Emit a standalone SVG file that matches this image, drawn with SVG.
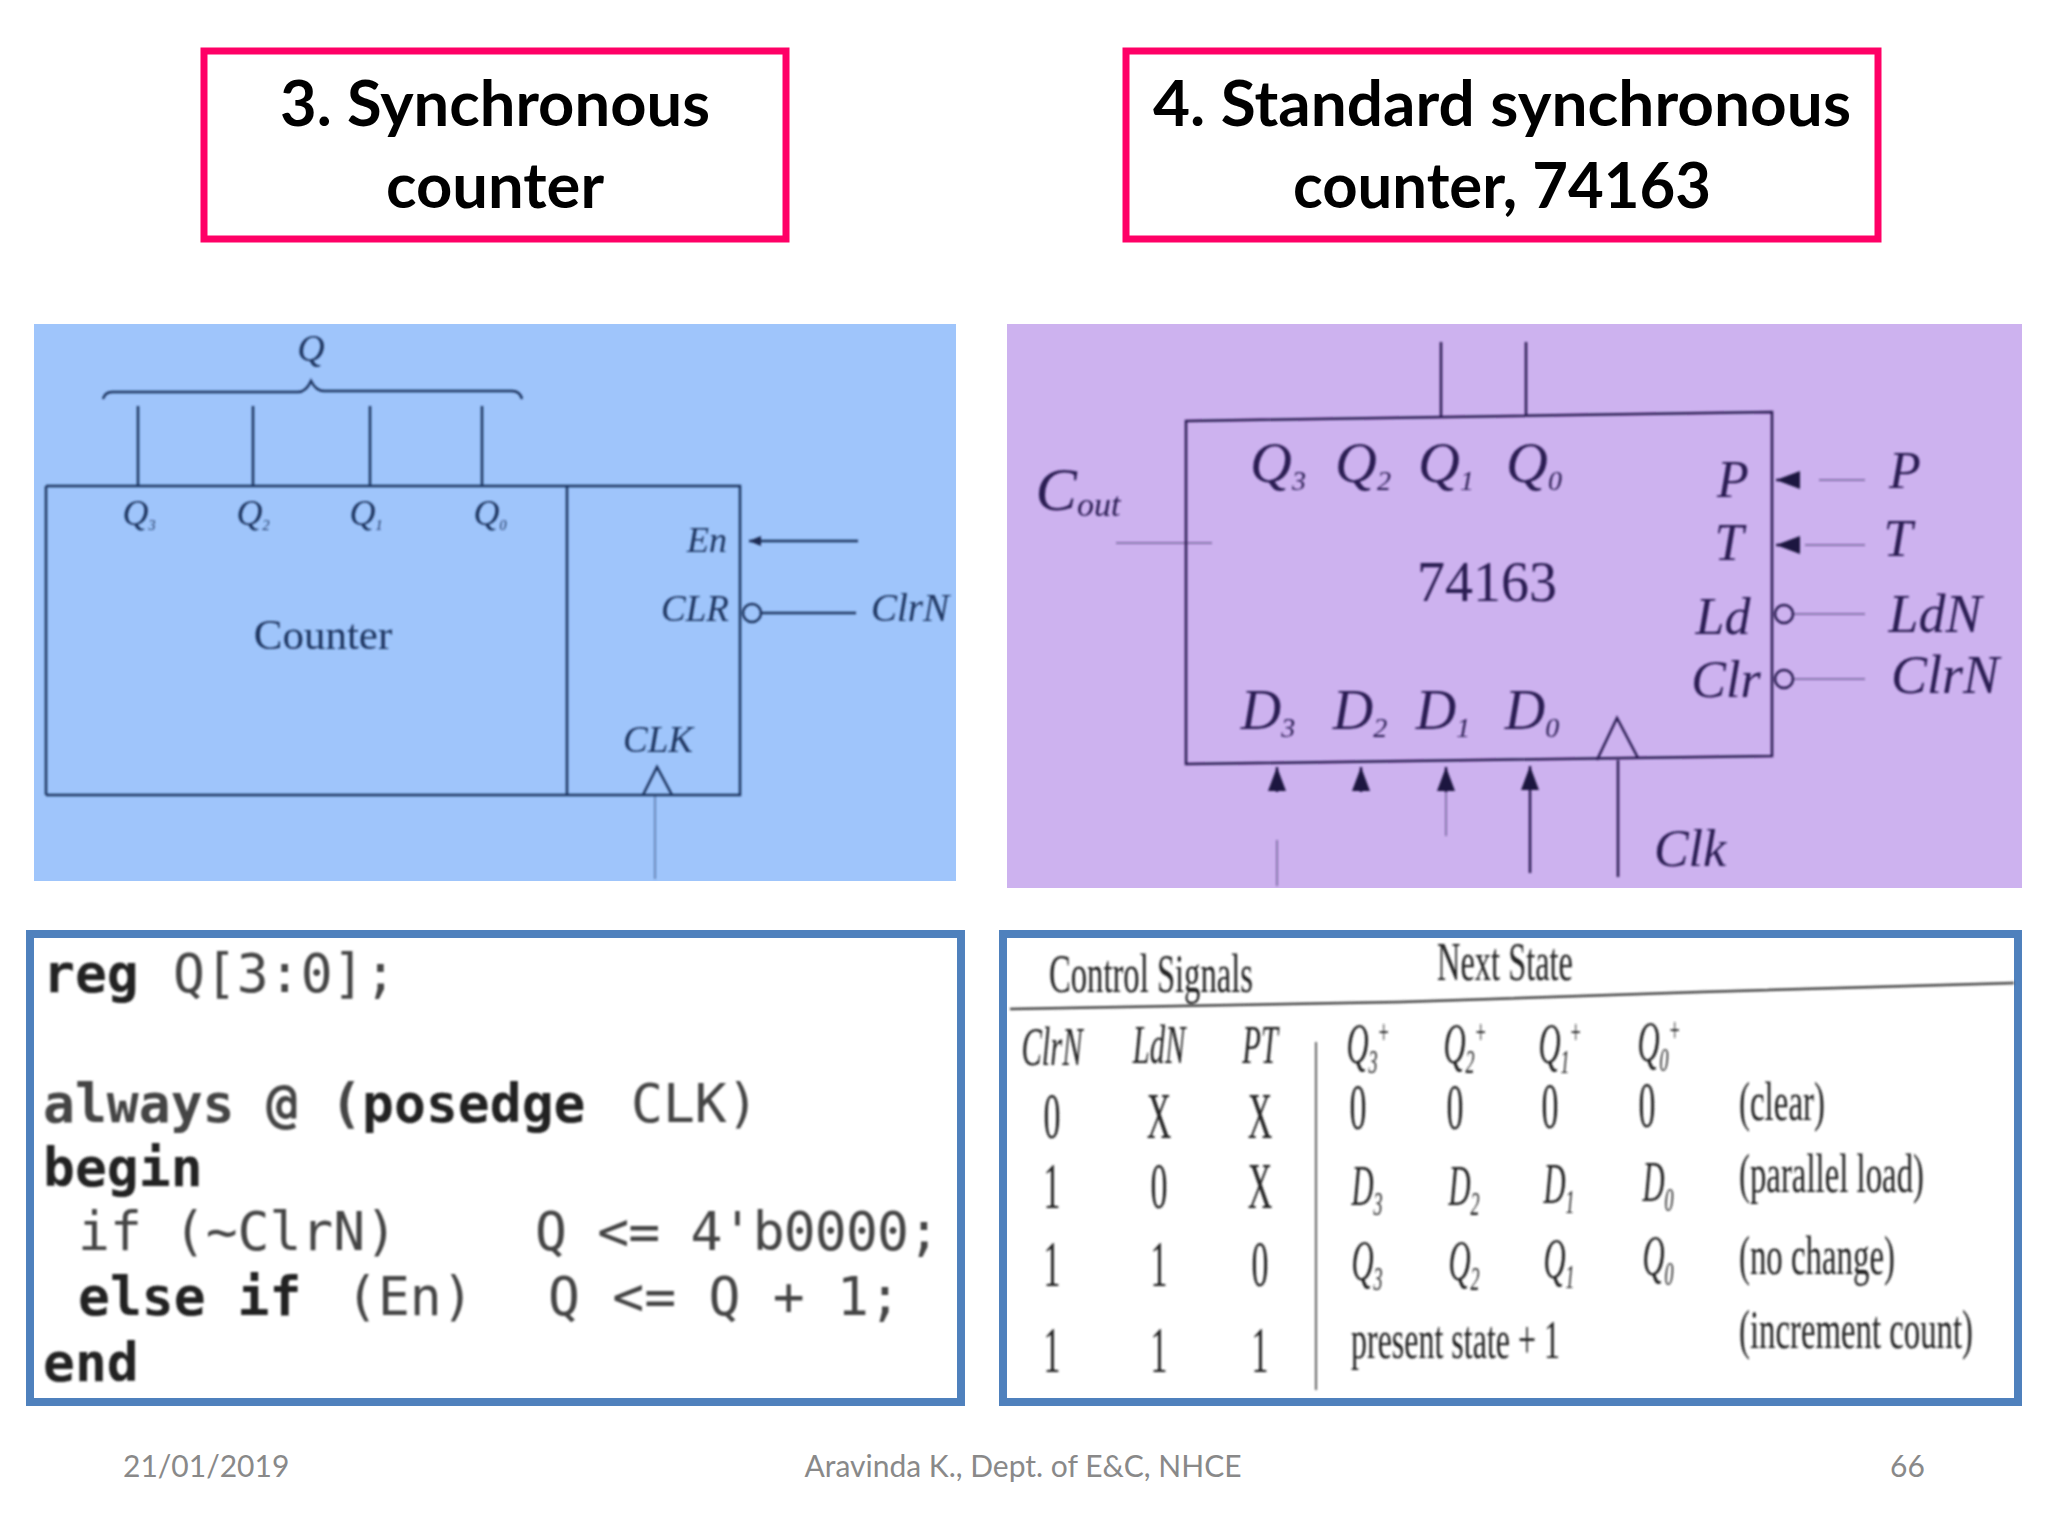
<svg xmlns="http://www.w3.org/2000/svg" width="2048" height="1536" viewBox="0 0 2048 1536">
<defs>
<filter id="soft" x="-5%" y="-5%" width="110%" height="110%"><feGaussianBlur stdDeviation="1.2"/></filter>
<marker id="ah" viewBox="0 0 12 10" refX="12" refY="5" markerWidth="12" markerHeight="10" markerUnits="userSpaceOnUse" orient="auto"><path d="M0 0L12 5L0 10Z" fill="#1c2a52"/></marker>
<marker id="ah2" viewBox="0 0 24 18" refX="24" refY="9" markerWidth="24" markerHeight="18" markerUnits="userSpaceOnUse" orient="auto"><path d="M0 0L24 9L0 18Z" fill="#1f1640"/></marker>
</defs>
<style>
.head{font-family:Lato,"Open Sans",sans-serif;font-weight:700;font-size:63px;fill:#000;text-anchor:middle}
.hbox{fill:#fff;stroke:#ff0066;stroke-width:7}
.bbox{fill:#fff;stroke:#4f81bd;stroke-width:8}
.foot{font-family:Lato,"Open Sans",sans-serif;font-size:30px;fill:#898989}
.l1{stroke:#1f3560;stroke-width:2.5;fill:none}
.l2{stroke:#2a1d52;stroke-width:2.5;fill:none}
.faint{stroke-opacity:.55;stroke-width:1.5}
.ti{font-family:"Liberation Serif",serif;font-style:italic;fill:#1f3560;text-anchor:middle}
.tp{font-family:"Liberation Serif",serif;font-style:italic;fill:#2a1d52;text-anchor:middle}
.code{font-family:"DejaVu Sans Mono","Liberation Mono",monospace;font-size:53px;fill:#444}
.cb{font-weight:700;fill:#222}
.tt{font-family:"Liberation Serif",serif;fill:#222;text-anchor:middle}
.ts{font-size:34px}
.tl{text-anchor:start}
.tv{font-style:italic}
</style>
<rect width="2048" height="1536" fill="#fff"/>

<g id="title-3">
<rect class="hbox" x="204" y="51" width="582" height="188"/>
<text class="head" x="495" y="126" textLength="430" lengthAdjust="spacingAndGlyphs">3. Synchronous</text>
<text class="head" x="495" y="208" textLength="218" lengthAdjust="spacingAndGlyphs">counter</text>
</g>
<g id="title-4">
<rect class="hbox" x="1126" y="51" width="752" height="188"/>
<text class="head" x="1502" y="126" textLength="698" lengthAdjust="spacingAndGlyphs">4. Standard synchronous</text>
<text class="head" x="1502" y="208" textLength="418" lengthAdjust="spacingAndGlyphs">counter, 74163</text>
</g>

<g id="panel-counter">
<rect x="34" y="324" width="922" height="557" fill="#9fc5fb"/>
<g filter="url(#soft)">
<g id="counter-body">
<path class="l1" d="M46 486H740V795H46M46 486V795M567 486V795"/>
<path class="l1" d="M643 795L657 767L672 795"/>
</g>
<g id="counter-labels">
<text class="ti" x="311" y="361" font-size="38">Q</text>
<text class="ti" x="139" y="525" font-size="36">Q<tspan font-size="14" dy="5">3</tspan></text>
<text class="ti" x="253" y="525" font-size="36">Q<tspan font-size="14" dy="5">2</tspan></text>
<text class="ti" x="366" y="525" font-size="36">Q<tspan font-size="14" dy="5">1</tspan></text>
<text class="ti" x="490" y="525" font-size="36">Q<tspan font-size="14" dy="5">0</tspan></text>
<text class="ti" x="707" y="552" font-size="36">En</text>
<text class="ti" x="695" y="621" font-size="37">CLR</text>
<text class="ti" x="910" y="621" font-size="39">ClrN</text>
<text class="ti" x="658" y="752" font-size="37">CLK</text>
<text x="323" y="649" font-family="Liberation Serif,serif" font-size="43" fill="#1f3560" text-anchor="middle">Counter</text>
</g>
<g id="counter-connectors">
<path class="l1" d="M103 399Q105 392 112 392H298Q306 392 311 381Q316 391 324 391H512Q520 391 522 399"/>
<path class="l1" d="M138 406V486M253 406V486M370 406V486M482 406V486"/>
<path class="l1" d="M858 541H749" marker-end="url(#ah)"/>
<circle class="l1" cx="752" cy="613" r="9"/>
<path class="l1" d="M762 613H856"/>
<path class="l1 faint" d="M655 795V879"/>
</g>
</g>
</g>

<g id="panel-74163">
<rect x="1007" y="324" width="1015" height="564" fill="#cdb2ef"/>
<g filter="url(#soft)">
<g id="chip-body">
<path class="l2" d="M1186 421L1772 412V756L1186 764ZM1186 421V764"/>
<path class="l2" d="M1597 760L1617 718L1638 758"/>
</g>
<g id="chip-labels">
<text class="tp" x="1278" y="482" font-size="58">Q<tspan font-size="28" dy="8">3</tspan></text>
<text class="tp" x="1363" y="482" font-size="58">Q<tspan font-size="28" dy="8">2</tspan></text>
<text class="tp" x="1446" y="482" font-size="58">Q<tspan font-size="28" dy="8">1</tspan></text>
<text class="tp" x="1534" y="482" font-size="58">Q<tspan font-size="28" dy="8">0</tspan></text>
<text class="tp" x="1078" y="510" font-size="62">C<tspan font-size="34" dy="6">out</tspan></text>
<text class="tp" x="1733" y="497" font-size="52">P</text>
<text class="tp" x="1729" y="560" font-size="52">T</text>
<text class="tp" x="1723" y="634" font-size="52">Ld</text>
<text class="tp" x="1726" y="697" font-size="52">Clr</text>
<text class="tp" x="1905" y="488" font-size="52">P</text>
<text class="tp" x="1898" y="556" font-size="52">T</text>
<text class="tp" x="1935" y="632" font-size="54">LdN</text>
<text class="tp" x="1945" y="693" font-size="54">ClrN</text>
<text x="1487" y="601" font-family="Liberation Serif,serif" font-size="56" fill="#2a1d52" text-anchor="middle">74163</text>
<text class="tp" x="1268" y="729" font-size="56">D<tspan font-size="28" dy="8">3</tspan></text>
<text class="tp" x="1360" y="729" font-size="56">D<tspan font-size="28" dy="8">2</tspan></text>
<text class="tp" x="1443" y="729" font-size="56">D<tspan font-size="28" dy="8">1</tspan></text>
<text class="tp" x="1532" y="729" font-size="56">D<tspan font-size="28" dy="8">0</tspan></text>
<text class="tp" x="1690" y="866" font-size="52">Clk</text>
</g>
<g id="chip-connectors">
<path class="l2" d="M1441 342V418M1526 342V416"/>
<path class="l2 faint" d="M1116 543H1212"/>
<path class="l2" d="M1800 480H1776" marker-end="url(#ah2)"/>
<path class="l2" d="M1800 545H1776" marker-end="url(#ah2)"/>
<path class="l2 faint" d="M1819 480H1865M1805 545H1865"/>
<circle class="l2" stroke-width="2" cx="1784" cy="614" r="9"/>
<circle class="l2" stroke-width="2" cx="1784" cy="679" r="9"/>
<path class="l2 faint" d="M1793 614H1865M1793 679H1865"/>
<path class="l2" d="M1277 792V767" marker-end="url(#ah2)"/>
<path class="l2" d="M1361 792V767" marker-end="url(#ah2)"/>
<path class="l2" d="M1446 792V767" marker-end="url(#ah2)"/>
<path class="l2" d="M1530 792V766" marker-end="url(#ah2)"/>
<path class="l2 faint" d="M1277 840V886M1446 792V836"/>
<path class="l2" d="M1530 792V873"/>
<path class="l2" d="M1618 877V760"/>
</g>
</g>
</g>

<g id="code-box">
<rect class="bbox" x="30" y="934" width="931" height="468"/>
<g filter="url(#soft)">
<text class="code cb" x="43" y="992">reg</text>
<text class="code" x="173" y="992">Q[3:0];</text>
<text class="code" x="43" y="1122" font-weight="700">always @ (<tspan class="cb">posedge</tspan></text>
<text class="code" x="631" y="1122">CLK)</text>
<text class="code cb" x="43" y="1186">begin</text>
<text class="code" x="78" y="1250">if (~ClrN)</text>
<text class="code" x="535" y="1250" textLength="405">Q &lt;= 4'b0000;</text>
<text class="code cb" x="78" y="1315">else if</text>
<text class="code" x="346" y="1315">(En)</text>
<text class="code" x="548" y="1315" textLength="353">Q &lt;= Q + 1;</text>
<text class="code cb" x="43" y="1381">end</text>
</g>
</g>

<g id="state-table">
<rect class="bbox" x="1003" y="934" width="1015" height="468"/>
<g filter="url(#soft)">
<path stroke="#444" stroke-width="2.5" fill="none" d="M1010 1009L1400 1002L1700 992L2014 983"/>
<path stroke="#333" stroke-width="1.5" fill="none" d="M1316 1042V1390"/>
<text class="tt ts" transform="translate(1151 992) scale(1 1.6)" textLength="204" lengthAdjust="spacingAndGlyphs">Control Signals</text>
<text class="tt ts" transform="translate(1505 980) scale(1 1.6)" textLength="136" lengthAdjust="spacingAndGlyphs">Next State</text>

<text class="tt ts tv" transform="translate(1052 1065) scale(.9 1.6)">ClrN</text>
<text class="tt ts tv" transform="translate(1159 1063) scale(.9 1.6)">LdN</text>
<text class="tt ts tv" transform="translate(1260 1063) scale(.9 1.6)">PT</text>
<text class="tt ts tv" transform="translate(1368 1063) scale(.9 1.7)">Q<tspan font-size="20" dy="6">3</tspan><tspan font-size="20" dy="-18">+</tspan></text>
<text class="tt ts tv" transform="translate(1465 1063) scale(.9 1.7)">Q<tspan font-size="20" dy="6">2</tspan><tspan font-size="20" dy="-18">+</tspan></text>
<text class="tt ts tv" transform="translate(1560 1063) scale(.9 1.7)">Q<tspan font-size="20" dy="6">1</tspan><tspan font-size="20" dy="-18">+</tspan></text>
<text class="tt ts tv" transform="translate(1659 1061) scale(.9 1.7)">Q<tspan font-size="20" dy="6">0</tspan><tspan font-size="20" dy="-18">+</tspan></text>

<text class="tt ts" transform="translate(1052 1138) scale(1 1.9)">0</text>
<text class="tt ts" transform="translate(1159 1138) scale(1 1.9)">X</text>
<text class="tt ts" transform="translate(1260 1138) scale(1 1.9)">X</text>
<text class="tt ts" transform="translate(1358 1129) scale(1 1.9)">0</text>
<text class="tt ts" transform="translate(1455 1129) scale(1 1.9)">0</text>
<text class="tt ts" transform="translate(1550 1128) scale(1 1.9)">0</text>
<text class="tt ts" transform="translate(1647 1127) scale(1 1.9)">0</text>
<text class="tt ts tl" transform="translate(1739 1120) scale(1 1.6)" textLength="86" lengthAdjust="spacingAndGlyphs">(clear)</text>

<text class="tt ts" transform="translate(1052 1208) scale(1 1.9)">1</text>
<text class="tt ts" transform="translate(1159 1208) scale(1 1.9)">0</text>
<text class="tt ts" transform="translate(1260 1208) scale(1 1.9)">X</text>
<text class="tt ts tv" transform="translate(1367 1205) scale(.9 1.7)">D<tspan font-size="20" dy="6">3</tspan></text>
<text class="tt ts tv" transform="translate(1464 1205) scale(.9 1.7)">D<tspan font-size="20" dy="6">2</tspan></text>
<text class="tt ts tv" transform="translate(1559 1203) scale(.9 1.7)">D<tspan font-size="20" dy="6">1</tspan></text>
<text class="tt ts tv" transform="translate(1658 1201) scale(.9 1.7)">D<tspan font-size="20" dy="6">0</tspan></text>
<text class="tt ts tl" transform="translate(1739 1192) scale(1 1.6)" textLength="185" lengthAdjust="spacingAndGlyphs">(parallel load)</text>

<text class="tt ts" transform="translate(1052 1286) scale(1 1.9)">1</text>
<text class="tt ts" transform="translate(1159 1286) scale(1 1.9)">1</text>
<text class="tt ts" transform="translate(1260 1286) scale(1 1.9)">0</text>
<text class="tt ts tv" transform="translate(1367 1280) scale(.9 1.7)">Q<tspan font-size="20" dy="6">3</tspan></text>
<text class="tt ts tv" transform="translate(1464 1280) scale(.9 1.7)">Q<tspan font-size="20" dy="6">2</tspan></text>
<text class="tt ts tv" transform="translate(1559 1278) scale(.9 1.7)">Q<tspan font-size="20" dy="6">1</tspan></text>
<text class="tt ts tv" transform="translate(1658 1275) scale(.9 1.7)">Q<tspan font-size="20" dy="6">0</tspan></text>
<text class="tt ts tl" transform="translate(1739 1274) scale(1 1.6)" textLength="156" lengthAdjust="spacingAndGlyphs">(no change)</text>

<text class="tt ts" transform="translate(1052 1372) scale(1 1.9)">1</text>
<text class="tt ts" transform="translate(1159 1372) scale(1 1.9)">1</text>
<text class="tt ts" transform="translate(1260 1372) scale(1 1.9)">1</text>
<text class="tt ts tl" transform="translate(1351 1358) scale(1 1.6)" textLength="209" lengthAdjust="spacingAndGlyphs">present state + 1</text>
<text class="tt ts tl" transform="translate(1739 1348) scale(1 1.6)" textLength="234" lengthAdjust="spacingAndGlyphs">(increment count)</text>
</g>
</g>

<g id="footer">
<text class="foot" x="123" y="1477">21/01/2019</text>
<text class="foot" x="1023" y="1477" text-anchor="middle">Aravinda K., Dept. of E&amp;C, NHCE</text>
<text class="foot" x="1890" y="1477">66</text>
</g>
</svg>
